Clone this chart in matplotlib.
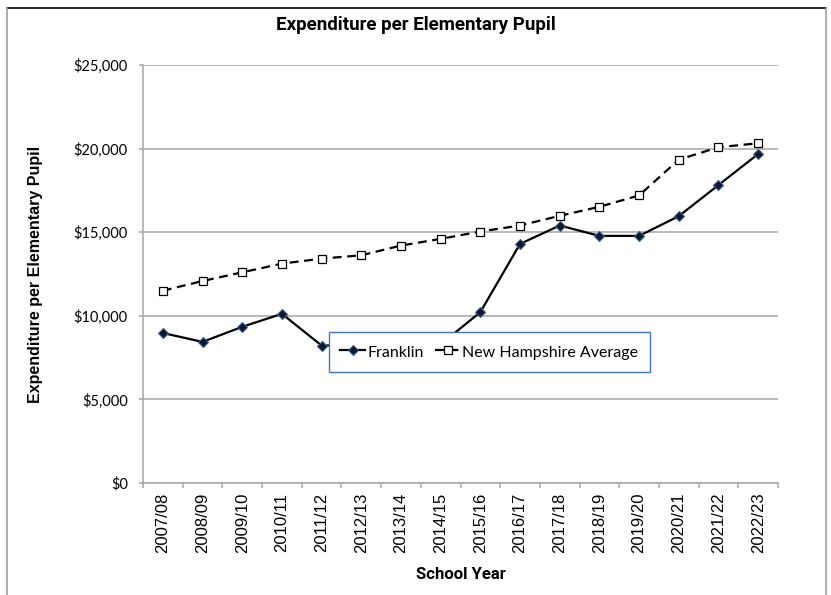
import matplotlib
matplotlib.use("Agg")
import matplotlib.pyplot as plt
from matplotlib.ticker import FuncFormatter, FixedLocator
from matplotlib.lines import Line2D

years = ["2007/08", "2008/09", "2009/10", "2010/11", "2011/12", "2012/13", "2013/14",
         "2014/15", "2015/16", "2016/17", "2017/18", "2018/19", "2019/20", "2020/21",
         "2021/22", "2022/23"]
franklin = [8970, 8440, 9340, 10120, 8220, 8250, 8150, 8290, 10220, 14300, 15400,
            14780, 14780, 15960, 17820, 19680]
nh_avg = [11500, 12080, 12600, 13120, 13420, 13620, 14200, 14600, 15040, 15400, 15980,
          16520, 17200, 19340, 20080, 20320]
yticks = [0, 5000, 10000, 15000, 20000, 25000]

W, H = 831, 595
fig = plt.figure(figsize=(W / 100, H / 100), dpi=100)
ax = fig.add_axes([143 / W, 1 - 483 / H, (778 - 143) / W, (483 - 65) / H])

# outer border
fig.add_artist(Line2D([7 / W, 826 / W], [1 - 8 / H, 1 - 8 / H], transform=fig.transFigure, color="black", lw=1.2))
fig.add_artist(Line2D([7 / W, 7 / W], [0, 1 - 8 / H], transform=fig.transFigure, color="#a0a0a0", lw=1.2))
fig.add_artist(Line2D([826 / W, 826 / W], [0, 1 - 8 / H], transform=fig.transFigure, color="#a0a0a0", lw=1.2))

x = list(range(len(years)))
ax.plot(x, nh_avg, color="black", lw=1.6, ls=(0, (4, 2.5)), marker="s", ms=6,
        mfc="white", mec="black", mew=0.9, zorder=3, label="New Hampshire Average")
ax.plot(x, franklin, color="black", lw=1.6, marker="D", ms=5.5,
        mfc="#101828", mec="#3a5f9a", mew=0.8, zorder=4, label="Franklin")

ax.set_xlim(-0.5, len(years) - 0.5)
ax.set_ylim(0, 25000)
ax.yaxis.set_major_locator(FixedLocator(yticks))
ax.yaxis.set_major_formatter(FuncFormatter(lambda v, p: "${:,.0f}".format(v)))
ax.grid(axis="y", color="#a6a6a6", lw=1.1)
ax.set_axisbelow(True)
for s in ["top", "right"]:
    ax.spines[s].set_visible(False)
for s in ["left", "bottom"]:
    ax.spines[s].set_color("#a6a6a6")
    ax.spines[s].set_linewidth(1.1)

ax.set_xticks([i - 0.5 for i in range(len(years) + 1)])
ax.set_xticklabels([])
ax.set_xticks(x, minor=True)
ax.set_xticklabels(years, minor=True, rotation=90, fontsize=12, family="Liberation Sans")
ax.tick_params(axis="x", which="major", length=3.5, color="#a6a6a6", width=1.1)
ax.tick_params(axis="x", which="minor", length=0, pad=7)
ax.tick_params(axis="y", length=3, color="#a6a6a6", width=1.1, pad=8, labelsize=10.5)
for t in ax.get_yticklabels():
    t.set_family("Lato")

ax.set_ylabel("Expenditure per Elementary Pupil", fontsize=11.5, fontweight="bold",
              family="Liberation Sans")
ax.yaxis.set_label_coords((43 - 143) / (778 - 143), 0.5)
ax.set_xlabel("School Year", fontsize=12, fontweight="bold", family="Roboto", labelpad=10)
fig.suptitle("Expenditure per Elementary Pupil", x=0.5, y=1 - 16 / H,
             fontsize=13.5, fontweight="bold", family="Roboto", va="top")

# legend
h, l = ax.get_legend_handles_labels()
leg = ax.legend(h[::-1], l[::-1], ncol=2, loc="upper left",
                bbox_to_anchor=((329 - 143) / (778 - 143), (483 - 332) / (483 - 65)),
                frameon=True, fancybox=False, edgecolor="#4472c4", framealpha=1,
                prop={"family": "Lato", "size": 11.5}, handlelength=1.56, handleheight=1.3,
                handletextpad=0.15, columnspacing=0.7, borderpad=0.7, borderaxespad=0)
leg.get_frame().set_linewidth(1.0)

fig.savefig("out.png", dpi=100)
